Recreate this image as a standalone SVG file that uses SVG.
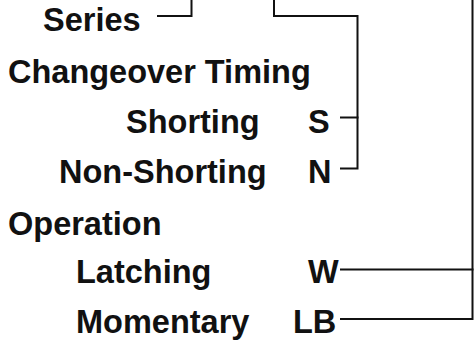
<svg xmlns="http://www.w3.org/2000/svg" width="474" height="343" viewBox="0 0 474 343">
<style>
text{font-family:"Liberation Sans",Arial,sans-serif;font-weight:bold;font-size:32.5px;fill:#111}
.c{fill:none;stroke:#111;stroke-width:2;stroke-linecap:square;stroke-linejoin:miter}
</style>
<rect width="474" height="343" fill="#fff"/>
<g id="series"><text x="43" y="31">Series</text></g>
<g id="changeover"><text x="8" y="83">Changeover Timing</text></g>
<g id="shorting"><text x="126" y="133">Shorting</text><text x="308" y="133">S</text></g>
<g id="nonshorting"><text x="59" y="183">Non-Shorting</text><text x="308" y="183">N</text></g>
<g id="operation"><text x="8" y="235">Operation</text></g>
<g id="latching"><text x="76" y="283">Latching</text><text x="308" y="283">W</text></g>
<g id="momentary"><text x="76" y="333">Momentary</text><text x="293" y="333">LB</text></g>
<g id="connectors">
<path class="c" d="M158 16H191.5V0"/>
<path class="c" d="M274 0V16H357.5V168.5H341"/>
<path class="c" d="M341 117.5H357.5"/>
<path class="c" d="M472.5 0V319H341"/>
<path class="c" d="M341 269.5H472.5"/>
</g>
</svg>
